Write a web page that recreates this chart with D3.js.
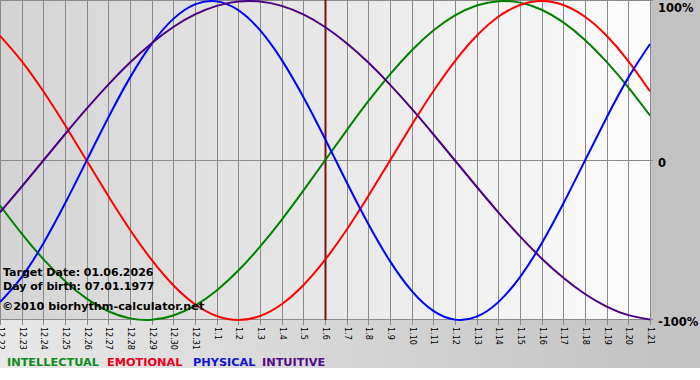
<!DOCTYPE html>
<html>
<head>
<meta charset="utf-8">
<script src="https://cdn.jsdelivr.net/npm/d3@7"></script>
<style>
html,body{margin:0;padding:0;background:#fff;}
svg{display:block;}
text{font-family:"DejaVu Sans",Verdana,sans-serif;}
</style>
</head>
<body>
<svg id="chart" width="700" height="380"></svg>
<script>
const days = ["12.22","12.23","12.24","12.25","12.26","12.27","12.28","12.29","12.30","12.31",
  "1.1","1.2","1.3","1.4","1.5","1.6","1.7","1.8","1.9","1.10","1.11","1.12","1.13","1.14",
  "1.15","1.16","1.17","1.18","1.19","1.20","1.21"];
const intellectual = [-0.2817,-0.4582,-0.6182,-0.7557,-0.8660,-0.9450,-0.9898,-0.9989,-0.9718,-0.9096,-0.8146,
  -0.6901,-0.5406,-0.3717,-0.1893,0.0000,0.1893,0.3717,0.5406,0.6901,0.8146,0.9096,0.9718,0.9989,0.9898,
  0.9450,0.8660,0.7557,0.6182,0.4582,0.2817];
const emotional = [0.7818,0.6235,0.4339,0.2225,0.0000,-0.2225,-0.4339,-0.6235,-0.7818,-0.9010,-0.9749,
  -1.0000,-0.9749,-0.9010,-0.7818,-0.6235,-0.4339,-0.2225,0.0000,0.2225,0.4339,0.6235,0.7818,0.9010,0.9749,
  1.0000,0.9749,0.9010,0.7818,0.6235,0.4339];
const physical = [-0.8879,-0.7308,-0.5196,-0.2698,0.0000,0.2698,0.5196,0.7308,0.8879,0.9791,0.9977,
  0.9423,0.8170,0.6310,0.3984,0.1362,-0.1362,-0.3984,-0.6310,-0.8170,-0.9423,-0.9977,-0.9791,-0.8879,-0.7308,
  -0.5196,-0.2698,0.0000,0.2698,0.5196,0.7308];
const intuitive = [-0.3247,-0.1646,0.0000,0.1646,0.3247,0.4759,0.6142,0.7357,0.8372,0.9158,0.9694,
  0.9966,0.9966,0.9694,0.9158,0.8372,0.7357,0.6142,0.4759,0.3247,0.1646,0.0000,-0.1646,-0.3247,-0.4759,
  -0.6142,-0.7357,-0.8372,-0.9158,-0.9694,-0.9966];
const targetDay = "1.6";
const yTicks = [1, 0, -1];
const yTickLabels = ["100%", "0", "-100%"];
const legendNames = ["INTELLECTUAL", "EMOTIONAL", "PHYSICAL", "INTUITIVE"];
const infoLines = ["Target Date: 01.06.2026", "Day of birth: 07.01.1977"];
const copyright = "\u00A92010 biorhythm-calculator.net";

const colors = ["#008000", "#ff0000", "#0000ff", "#4b0082"];
const legendColors = ["#118a22", "#e8001a", "#1212d0", "#520a86"];
const seriesList = [intellectual, emotional, physical, intuitive];

const svg = d3.select("#chart");
const defs = svg.append("defs");
const g1 = defs.append("linearGradient").attr("id","bgGrad").attr("x1","0").attr("x2","1").attr("y1","0").attr("y2","0");
g1.append("stop").attr("offset","0").attr("stop-color","#e8e8e8");
g1.append("stop").attr("offset","1").attr("stop-color","#c2c2c2");
const g2 = defs.append("linearGradient").attr("id","plotGrad").attr("x1","0").attr("x2","1").attr("y1","0").attr("y2","0");
g2.append("stop").attr("offset","0").attr("stop-color","#d4d4d4");
g2.append("stop").attr("offset","1").attr("stop-color","#fcfcfc");

const W = 700, H = 368;
const plotLeft = 0, plotRight = 650, plotTop = 1, plotBottom = 320;

svg.append("rect").attr("x",0).attr("y",0).attr("width",W).attr("height",H).attr("fill","url(#bgGrad)");
svg.append("rect").attr("x",650).attr("y",0).attr("width",50).attr("height",322).attr("fill","#c2c2c2");
svg.append("rect").attr("x",plotLeft).attr("y",0).attr("width",plotRight-plotLeft).attr("height",plotBottom).attr("fill","url(#plotGrad)");

const x = d3.scalePoint().domain(days).range([plotLeft, plotRight]);
const y = d3.scaleLinear().domain([-1, 1]).range([plotBottom, plotTop]);
const px = d => Math.round(x(d)) + 0.5;

// vertical gridlines + ticks
svg.append("g").selectAll("line").data(days).join("line")
  .attr("x1", px).attr("x2", px).attr("y1", 0).attr("y2", plotBottom + 5)
  .attr("stroke", "#8a8a8a").attr("stroke-width", 1);

// horizontal lines
svg.append("g").selectAll("line").data(yTicks).join("line")
  .attr("x1", plotLeft).attr("x2", plotRight + 3)
  .attr("y1", d => Math.round(y(d)) - 0.5).attr("y2", d => Math.round(y(d)) - 0.5)
  .attr("stroke", "#8a8a8a").attr("stroke-width", 1);

// x labels (rotated)
svg.append("g").selectAll("text").data(days).join("text")
  .attr("transform", d => `translate(${px(d)},${plotBottom + 7}) rotate(90)`)
  .attr("dy", "0.35em")
  .attr("font-size", "8px")
  .attr("fill", "#000")
  .text(d => d);

// y labels on right
svg.append("g").selectAll("text").data(yTicks).join("text")
  .attr("x", 658).attr("y", d => Math.max(y(d) + 6, 12))
  .attr("font-size", "11.5px").attr("font-weight", "bold").attr("fill", "#000")
  .text((d, i) => yTickLabels[i]);

// target line
svg.append("line")
  .attr("x1", x(targetDay) + 0.5).attr("x2", x(targetDay) + 0.5)
  .attr("y1", 0).attr("y2", plotBottom)
  .attr("stroke", "#7a1010").attr("stroke-width", 2);

// curves
const line = d3.line().x((d, i) => x(days[i])).y(d => y(d)).curve(d3.curveNatural);
svg.append("g").selectAll("path").data(seriesList).join("path")
  .attr("d", d => line(d))
  .attr("fill", "none")
  .attr("stroke", (d, i) => colors[i])
  .attr("stroke-width", 2);

// info texts
svg.append("g").selectAll("text").data(infoLines).join("text")
  .attr("x", 3).attr("y", (d, i) => 276 + i * 14)
  .attr("font-size", "11px").attr("font-weight", "bold").attr("fill", "#000")
  .text(d => d);
svg.append("text").attr("x", 2).attr("y", 310)
  .attr("font-size", "11.2px").attr("font-weight", "bold").attr("fill", "#000")
  .text(copyright);

// legend
const legendX = [7, 107, 193, 262];
svg.append("g").selectAll("text").data(legendNames).join("text")
  .attr("x", (d, i) => legendX[i]).attr("y", 366)
  .attr("font-size", "11.3px").attr("font-weight", "bold")
  .attr("fill", (d, i) => legendColors[i])
  .text(d => d);
</script>
</body>
</html>
